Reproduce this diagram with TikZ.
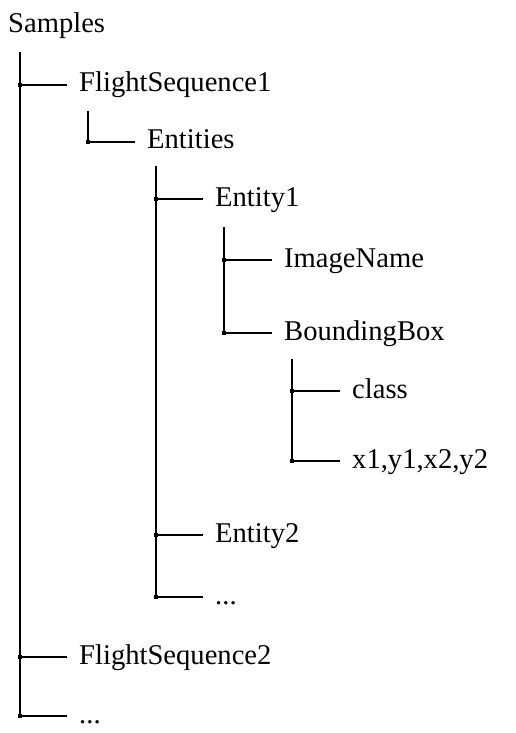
\documentclass[tikz,border=0pt]{standalone}
\usepackage{fontspec}
\setmainfont{Liberation Serif}
\begin{document}
\begin{tikzpicture}[x=1pt,y=-1pt,
        item/.style={anchor=base west,inner sep=0pt,font=\fontsize{28.6}{34}\selectfont},
        joint/.style={fill=black,inner sep=0pt,minimum size=4pt},
        branch/.style={line width=1.1pt},
        twig/.style={line width=1.1pt,shorten >=12pt}]
        \useasboundingbox (0,0) rectangle (516,733);

        %draw the labels of the tree (placed at their baselines)
        \node[item] (samples) at (8,33) {Samples};
        \node[item] (fs1) at (79,92) {FlightSequence1};
        \node[item] (entities) at (147,149) {Entities};
        \node[item] (ent1) at (215,206) {Entity1};
        \node[item] (imgname) at (284,267) {ImageName};
        \node[item] (bbox) at (284,340) {BoundingBox};
        \node[item] (cls) at (352,398) {class};
        \node[item] (coords) at (352,468) {x1,y1,x2,y2};
        \node[item] (ent2) at (215,542) {Entity2};
        \node[item] (entmore) at (215,604) {...};
        \node[item] (fs2) at (79,664) {FlightSequence2};
        \node[item] (fsmore) at (79,723) {...};

        %the joints where the branches meet
        \node[joint] (j1) at (20,85) {};
        \node[joint] (j2) at (88,142) {};
        \node[joint] (j3) at (156,199) {};
        \node[joint] (j4) at (224,260) {};
        \node[joint] (j5) at (224,333) {};
        \node[joint] (j6) at (292,391) {};
        \node[joint] (j7) at (292,461) {};
        \node[joint] (j8) at (156,535) {};
        \node[joint] (j9) at (156,597) {};
        \node[joint] (j10) at (20,657) {};
        \node[joint] (j11) at (20,716) {};

        %tops of the vertical branches
        \coordinate (t1) at (20,52);
        \coordinate (t2) at (88,111);
        \coordinate (t3) at (156,166);
        \coordinate (t4) at (224,227);
        \coordinate (t5) at (292,359);

        \draw[branch] (t1) -- (j11.center);
        \draw[branch] (t2) -- (j2.center);
        \draw[branch] (t3) -- (j9.center);
        \draw[branch] (t4) -- (j5.center);
        \draw[branch] (t5) -- (j7.center);

        \draw[twig] (j1.center) -- (j1.center -| fs1.west);
        \draw[twig] (j2.center) -- (j2.center -| entities.west);
        \draw[twig] (j3.center) -- (j3.center -| ent1.west);
        \draw[twig] (j4.center) -- (j4.center -| imgname.west);
        \draw[twig] (j5.center) -- (j5.center -| bbox.west);
        \draw[twig] (j6.center) -- (j6.center -| cls.west);
        \draw[twig] (j7.center) -- (j7.center -| coords.west);
        \draw[twig] (j8.center) -- (j8.center -| ent2.west);
        \draw[twig] (j9.center) -- (j9.center -| entmore.west);
        \draw[twig] (j10.center) -- (j10.center -| fs2.west);
        \draw[twig] (j11.center) -- (j11.center -| fsmore.west);

    \end{tikzpicture}
\end{document}
